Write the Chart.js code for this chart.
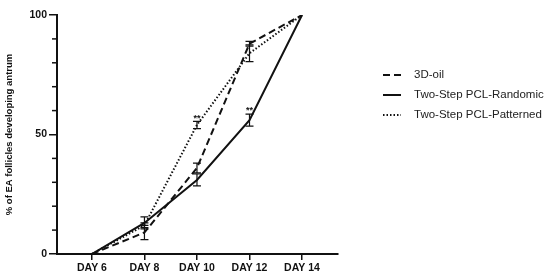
<!DOCTYPE html>
<html>
<head>
<meta charset="utf-8">
<script src="https://cdn.jsdelivr.net/npm/chart.js@4/dist/chart.umd.min.js"></script>
<style>
  html, body { margin: 0; padding: 0; background: #fff; }
  #wrap { width: 550px; height: 280px; position: relative; }
</style>
</head>
<body>
<div id="wrap"><canvas id="chart"></canvas></div>
<script>
// ---- data ----
const days = [6, 8, 10, 12, 14];
const oil = [0, 9, 36, 88, 100];
const oilErr = [0, 3, 2, 1, 0];
const randomic = [0, 13, 31, 56, 100];
const randomicErr = [0, 2.5, 2.5, 2.5, 0];
const patterned = [0, 12, 54, 84, 100];
const patternedErr = [0, 1, 1.5, 3.5, 0];
const seriesNames = ['3D-oil', 'Two-Step PCL-Randomic', 'Two-Step PCL-Patterned'];
const dashes = [[7, 4], [], [1.5, 2]];
// significance marks: [day, value, text]
const stars = [[10, 56.5, '**'], [12, 60, '**']];

const FONT = 'Arial, "Liberation Sans", sans-serif';

function pts(arr) { return days.map((d, i) => ({ x: d, y: arr[i] })); }
const errs = [oilErr, randomicErr, patternedErr];

const extras = {
  id: 'extras',
  afterDatasetsDraw(chart) {
    const ctx = chart.ctx;
    const xs = chart.scales.x, ys = chart.scales.y;
    ctx.save();
    ctx.strokeStyle = '#111';
    ctx.lineWidth = 1.2;
    ctx.setLineDash([]);
    // error bars
    chart.data.datasets.forEach((ds, di) => {
      ds.data.forEach((p, i) => {
        const e = errs[di][i];
        if (!e) return;
        const px = xs.getPixelForValue(p.x);
        const y1 = ys.getPixelForValue(p.y + e);
        const y2 = ys.getPixelForValue(p.y - e);
        ctx.beginPath();
        ctx.moveTo(px, y1); ctx.lineTo(px, y2);
        ctx.moveTo(px - 4, y1); ctx.lineTo(px + 4, y1);
        ctx.moveTo(px - 4, y2); ctx.lineTo(px + 4, y2);
        ctx.stroke();
      });
    });
    // asterisks
    ctx.fillStyle = '#111';
    ctx.font = 'bold 9px ' + FONT;
    ctx.textAlign = 'center';
    ctx.textBaseline = 'bottom';
    stars.forEach(s => {
      ctx.fillText(s[2], xs.getPixelForValue(s[0]), ys.getPixelForValue(s[1]) + 4);
    });
    // minor y ticks
    ctx.lineWidth = 1.5;
    for (let v = 10; v < 100; v += 10) {
      if (v === 50) continue;
      const py = ys.getPixelForValue(v);
      ctx.beginPath();
      ctx.moveTo(xs.left - 5, py); ctx.lineTo(xs.left, py);
      ctx.stroke();
    }
    // legend
    ctx.font = '11.5px ' + FONT;
    ctx.textAlign = 'left';
    ctx.textBaseline = 'middle';
    ctx.fillStyle = '#222';
    seriesNames.forEach((name, i) => {
      const y = 75 + i * 20;
      ctx.beginPath();
      ctx.lineWidth = 2;
      ctx.setLineDash(dashes[i]);
      ctx.moveTo(383, y); ctx.lineTo(401, y);
      ctx.stroke();
      ctx.setLineDash([]);
      ctx.fillText(name, 414, y);
    });
    ctx.restore();
  }
};

new Chart(document.getElementById('chart'), {
  type: 'line',
  data: {
    datasets: [
      { label: seriesNames[0], data: pts(oil), borderDash: dashes[0] },
      { label: seriesNames[1], data: pts(randomic), borderDash: dashes[1] },
      { label: seriesNames[2], data: pts(patterned), borderDash: dashes[2] }
    ].map(d => Object.assign(d, {
      borderColor: '#111', borderWidth: 2, pointRadius: 0, tension: 0, fill: false
    }))
  },
  options: {
    responsive: true,
    maintainAspectRatio: false,
    animation: false,
    layout: { padding: { top: 15, right: 212, left: 0, bottom: 0 } },
    plugins: { legend: { display: false }, tooltip: { enabled: false } },
    scales: {
      x: {
        type: 'linear',
        min: 4.67,
        max: 15.37,
        afterBuildTicks: s => { s.ticks = days.map(d => ({ value: d })); },
        afterFit: s => { s.height = 26; },
        border: { color: '#111', width: 2 },
        grid: { drawOnChartArea: false, color: '#111', lineWidth: 1.5, tickLength: 6 },
        ticks: {
          color: '#111', padding: 2,
          font: { family: FONT, size: 10.5, weight: 'bold' },
          callback: v => 'DAY ' + v
        }
      },
      y: {
        min: 0,
        max: 100,
        afterFit: s => { s.width = 57; },
        afterBuildTicks: s => { s.ticks = [0, 50, 100].map(v => ({ value: v })); },
        border: { color: '#111', width: 2 },
        grid: { drawOnChartArea: false, color: '#111', lineWidth: 1.5, tickLength: 8 },
        ticks: {
          color: '#111', padding: 2,
          font: { family: FONT, size: 10.5, weight: 'bold' }
        },
        title: {
          display: true,
          text: '% of EA follicles developing antrum',
          color: '#111',
          padding: { top: 4, bottom: 4 },
          font: { family: FONT, size: 9.5, weight: 'bold' }
        }
      }
    }
  },
  plugins: [extras]
});
</script>
</body>
</html>
